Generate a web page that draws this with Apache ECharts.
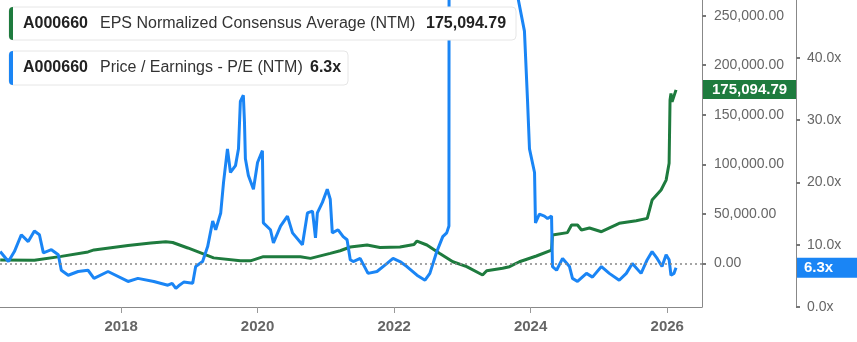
<!DOCTYPE html>
<html><head><meta charset="utf-8">
<script src="https://cdn.jsdelivr.net/npm/echarts@6/dist/echarts.min.js"></script>
<style>html,body{margin:0;padding:0;background:#fff}#c{width:857px;height:342px}</style>
</head><body><div id="c"></div>
<script>
const ticker = 'A000660';
const epsName = 'EPS Normalized Consensus Average (NTM)';
const peName = 'Price / Earnings - P/E (NTM)';

const epsDates = ['2016-03-25','2016-09-24','2017-02-15','2017-07-08','2017-08-09','2018-02-07','2018-06-09','2018-08-28','2018-10-04','2018-12-24',
'2019-03-03','2019-05-11','2019-10-01','2019-11-24','2020-02-01','2020-08-17','2020-10-10','2021-01-24','2021-03-18','2021-05-11',
'2021-08-09','2021-10-17','2022-02-01','2022-04-17','2022-05-03','2022-06-25','2022-09-02','2022-11-11','2023-01-24','2023-04-19',
'2023-05-11','2023-08-04','2023-09-10','2023-11-02','2024-02-01','2024-04-22','2024-04-27','2024-07-16','2024-08-07','2024-09-08',
'2024-09-29','2024-11-11','2025-01-14','2025-04-19','2025-07-19','2025-09-16','2025-10-12','2025-11-29','2025-12-26','2026-01-11',
'2026-01-16','2026-01-21','2026-01-27','2026-02-17'];
const epsValues = [3300,3000,7000,11500,13500,18000,20500,21800,21000,15500,
10500,5500,2500,2500,6700,6700,5000,10000,12700,16500,
18500,16000,16500,19000,22500,18500,10000,1600,-3400,-11800,
-7500,-5000,-3400,1600,7400,13400,28600,31000,38700,38700,
33600,35700,31900,40400,43000,45400,63900,74000,84000,101000,
165000,171600,163000,175094.79];

const peDates = ['2016-03-25','2016-05-08','2016-06-09','2016-07-16','2016-08-22','2016-09-24','2016-10-21','2016-11-11','2016-12-24','2017-01-30',
'2017-02-15','2017-03-24','2017-05-16','2017-07-08','2017-08-09','2017-10-23','2018-02-07','2018-04-01','2018-06-25','2018-09-08',
'2018-10-01','2018-10-21','2018-11-05','2018-12-02','2019-01-19','2019-02-04','2019-03-13','2019-04-09','2019-05-06','2019-05-22',
'2019-06-18','2019-07-03','2019-07-24','2019-08-09','2019-09-05','2019-09-21','2019-10-01','2019-10-17','2019-10-23','2019-10-28',
'2019-11-13','2019-12-10','2020-01-01','2020-01-27','2020-02-01','2020-03-10','2020-03-26','2020-05-03','2020-06-09','2020-07-06',
'2020-08-28','2020-09-24','2020-10-21','2020-11-06','2020-11-16','2020-12-13','2021-01-08','2021-01-24','2021-02-04','2021-03-07',
'2021-04-03','2021-04-24','2021-05-11','2021-05-27','2021-07-03','2021-08-14','2021-10-01','2021-11-24','2021-12-26','2022-02-01',
'2022-03-10','2022-05-03','2022-06-15','2022-07-11','2022-08-17','2022-09-18','2022-10-09','2022-10-21','2022-10-26','2023-10-17',
'2023-10-23','2023-11-29','2023-12-15','2023-12-26','2024-01-22','2024-01-27','2024-02-17','2024-03-15','2024-04-01','2024-04-22',
'2024-04-27','2024-05-19','2024-06-20','2024-07-27','2024-08-12','2024-09-08','2024-10-26','2024-11-27','2025-01-14','2025-02-25',
'2025-04-19','2025-05-27','2025-06-28','2025-08-14','2025-09-16','2025-10-12','2025-11-08','2025-12-04','2025-12-26','2026-01-11',
'2026-01-21','2026-02-06','2026-02-17'];
const peValues = [8.9,7.3,8.9,11.6,10.5,12.2,11.6,8.7,9.2,8.4,
5.9,5.1,5.7,5.9,4.6,5.7,4.1,4.6,4.1,3.5,
3.8,3.0,3.4,4.0,3.8,6.5,7.3,9.7,13.8,12.4,
15.1,20.0,25.4,21.6,22.7,25.4,33.0,34.0,29.7,23.8,
21.1,18.9,23.2,25.1,13.5,12.4,10.3,13.0,14.6,11.9,
10.0,15.1,15.4,11.1,15.1,16.8,18.9,17.3,11.9,12.4,
11.3,10.8,7.6,7.3,7.8,5.4,5.7,7.0,7.8,7.3,
6.5,5.1,4.3,5.4,8.9,11.3,11.9,13.0,300,300,
50,44.3,33.5,25.4,21.6,13.5,14.9,14.6,14.2,14.6,
6.5,5.9,7.8,6.5,4.6,4.1,5.4,4.8,6.5,5.4,
4.3,5.4,7.0,5.4,7.6,8.9,7.8,6.5,8.4,7.6,
5.1,5.4,6.3];

const yearTicks = ['2018-01-01','2020-01-01','2022-01-01','2024-01-01','2026-01-01'];
const xRange = ['2016-03-24', '2026-07-06'];
const epsTicks = [0, 50000, 100000, 150000, 200000, 250000];
const peTicks = [0, 10, 20, 30, 40, 50];

const GREEN = '#1e7b3e', BLUE = '#1a85f5';
const FONT = '"Liberation Sans", Arial, sans-serif';
const ts = d => Date.parse(d + 'T00:00:00Z');
const fmtEps = v => Number(v).toLocaleString('en-US', {minimumFractionDigits: 2, maximumFractionDigits: 2});
const fmtPe = v => Number(v).toFixed(1) + 'x';
const lastEps = epsValues[epsValues.length - 1];
const lastPe = peValues[peValues.length - 1];
const yearTs = yearTicks.map(ts);

const chart = echarts.init(document.getElementById('c'));
const axisLbl = {color: '#666', fontSize: 14, fontFamily: FONT};
chart.setOption({
  animation: false,
  grid: {left: 0, right: 155, top: -5, bottom: 35, containLabel: false, outerBoundsMode: 'none'},
  xAxis: {
    type: 'value', min: ts(xRange[0]), max: ts(xRange[1]),
    axisLine: {show: true, onZero: false, lineStyle: {color: '#888', width: 1}},
    axisTick: {show: true, length: 6, lineStyle: {color: '#999'}, customValues: yearTs},
    axisLabel: {color: '#666', fontSize: 15, fontWeight: 'bold', fontFamily: FONT, margin: 12,
      customValues: yearTs,
      formatter: v => String(new Date(v).getUTCFullYear())},
    splitLine: {show: false}
  },
  yAxis: [
    {type: 'value', position: 'right', min: -44100, max: 270900,
      axisLine: {show: true, lineStyle: {color: '#888', width: 1}},
      axisTick: {show: true, length: 4, lineStyle: {color: '#777', width: 2}, customValues: epsTicks},
      axisLabel: Object.assign({margin: 12, customValues: epsTicks, formatter: v => fmtEps(v)}, axisLbl),
      splitLine: {show: false}
    },
    {type: 'value', position: 'right', offset: 94, min: 0, max: 50.1,
      axisLine: {show: true, lineStyle: {color: '#888', width: 1}},
      axisTick: {show: true, length: 4, lineStyle: {color: '#777', width: 2}, customValues: peTicks},
      axisLabel: Object.assign({margin: 11, customValues: peTicks, formatter: v => fmtPe(v)}, axisLbl),
      splitLine: {show: false}
    }
  ],
  series: [
    {name: epsName, type: 'line', yAxisIndex: 0, showSymbol: false, z: 2,
      data: epsDates.map((d, i) => [ts(d), epsValues[i]]),
      lineStyle: {color: GREEN, width: 3}, itemStyle: {color: GREEN},
      markLine: {silent: true, symbol: 'none', label: {show: false},
        lineStyle: {color: '#888', type: [2, 3], width: 1.5}, data: [{yAxis: 0}]}},
    {name: peName, type: 'line', yAxisIndex: 1, showSymbol: false, z: 3,
      data: peDates.map((d, i) => [ts(d), peValues[i]]),
      lineStyle: {color: BLUE, width: 3}, itemStyle: {color: BLUE}}
  ]
});

// legend boxes, axis badges and the clipped top tick label, placed from the chart's own scales
const yEps = chart.convertToPixel({yAxisIndex: 0}, lastEps);
const yPe = chart.convertToPixel({yAxisIndex: 1}, lastPe);
const yPeTop = chart.convertToPixel({yAxisIndex: 1}, peTicks[peTicks.length - 1]);
const axX = chart.convertToPixel({xAxisIndex: 0}, ts(xRange[1]));
chart.setOption({
  graphic: [
    {type: 'rect', z: 100, shape: {x: 9, y: 7, width: 507, height: 33, r: 4}, style: {fill: '#fff', stroke: '#e6e6e6', lineWidth: 1}},
    {type: 'rect', z: 101, shape: {x: 9, y: 7, width: 4, height: 33, r: [4, 0, 0, 4]}, style: {fill: GREEN}},
    {type: 'text', z: 101, x: 23, y: 24, style: {text: ticker, fill: '#222', font: 'bold 16px ' + FONT, verticalAlign: 'middle'}},
    {type: 'text', z: 101, x: 100, y: 24, style: {text: epsName, fill: '#333', font: '16px ' + FONT, verticalAlign: 'middle'}},
    {type: 'text', z: 101, x: 426, y: 24, style: {text: fmtEps(lastEps), fill: '#222', font: 'bold 16px ' + FONT, verticalAlign: 'middle'}},
    {type: 'rect', z: 100, shape: {x: 9, y: 51, width: 339, height: 34, r: 4}, style: {fill: '#fff', stroke: '#e6e6e6', lineWidth: 1}},
    {type: 'rect', z: 101, shape: {x: 9, y: 51, width: 4, height: 34, r: [4, 0, 0, 4]}, style: {fill: BLUE}},
    {type: 'text', z: 101, x: 23, y: 68, style: {text: ticker, fill: '#222', font: 'bold 16px ' + FONT, verticalAlign: 'middle'}},
    {type: 'text', z: 101, x: 100, y: 68, style: {text: peName, fill: '#333', font: '16px ' + FONT, verticalAlign: 'middle'}},
    {type: 'text', z: 101, x: 310, y: 68, style: {text: fmtPe(lastPe), fill: '#222', font: 'bold 16px ' + FONT, verticalAlign: 'middle'}},
    {type: 'rect', z: 102, shape: {x: axX + 1, y: yEps - 10, width: 93, height: 19}, style: {fill: GREEN}},
    {type: 'text', z: 103, x: axX + 10, y: yEps, style: {text: fmtEps(lastEps), fill: '#fff', font: 'bold 15px ' + FONT, verticalAlign: 'middle'}},
    {type: 'rect', z: 102, shape: {x: axX + 95, y: yPe - 10, width: 70, height: 20}, style: {fill: BLUE}},
    {type: 'text', z: 103, x: axX + 102, y: yPe, style: {text: fmtPe(lastPe), fill: '#fff', font: 'bold 15px ' + FONT, verticalAlign: 'middle'}},
    {type: 'text', z: 50, x: axX + 94 + 11 + 2, y: yPeTop, style: {text: fmtPe(peTicks[peTicks.length - 1]), fill: '#666', font: '14px ' + FONT, verticalAlign: 'middle'}}
  ]
});
</script></body></html>
